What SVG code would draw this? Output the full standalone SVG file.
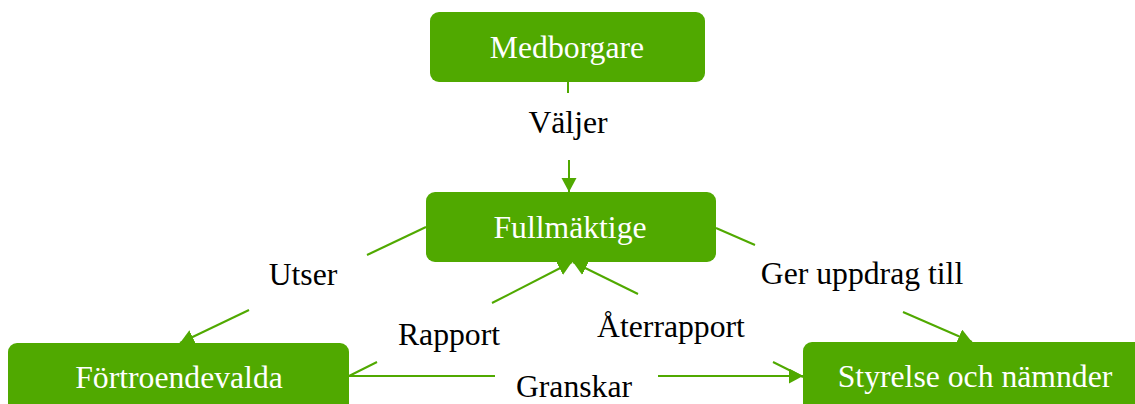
<svg xmlns="http://www.w3.org/2000/svg" width="1135" height="404" viewBox="0 0 1135 404">
<style>
.node rect{fill:#50a900;}
.node text{fill:#ffffff;font-family:"Liberation Serif","Times New Roman",serif;font-size:31.7px;text-anchor:middle;}
.edge line{stroke:#50a900;stroke-width:2;fill:none;}
.lbl{fill:#000000;font-family:"Liberation Serif","Times New Roman",serif;font-size:31.7px;text-anchor:middle;}
</style>
<defs>
<marker id="arr" markerUnits="userSpaceOnUse" markerWidth="15" markerHeight="16" refX="14" refY="7.5" orient="auto">
<path d="M0,0 L14,7.5 L0,15 z" fill="#50a900"/>
</marker>
</defs>
<rect width="1135" height="404" fill="#ffffff"/>
<g id="connectors">
<g class="edge" id="e-valjer">
<line x1="568" y1="82" x2="568" y2="93"/>
<line x1="569" y1="160" x2="569" y2="192" marker-end="url(#arr)"/>
<text class="lbl" x="568" y="133">Väljer</text>
</g>
<g class="edge" id="e-utser">
<line x1="426" y1="227" x2="367" y2="255"/>
<line x1="249" y1="310" x2="180" y2="343" marker-end="url(#arr)"/>
<text class="lbl" x="303" y="285">Utser</text>
</g>
<g class="edge" id="e-rapport">
<line x1="349" y1="376" x2="377" y2="362"/>
<line x1="492" y1="303" x2="572" y2="262" marker-end="url(#arr)"/>
<text class="lbl" x="449" y="345">Rapport</text>
</g>
<g class="edge" id="e-aterrapport">
<line x1="803" y1="377" x2="773" y2="362"/>
<line x1="638" y1="294" x2="573" y2="262" marker-end="url(#arr)"/>
<text class="lbl" x="671" y="337">Återrapport</text>
</g>
<g class="edge" id="e-granskar">
<line x1="349" y1="376" x2="495" y2="376"/>
<line x1="658" y1="376" x2="803" y2="376" marker-end="url(#arr)"/>
<text class="lbl" x="574" y="397">Granskar</text>
</g>
<g class="edge" id="e-uppdrag">
<line x1="716" y1="228" x2="755" y2="245"/>
<line x1="903" y1="312" x2="972" y2="342" marker-end="url(#arr)"/>
<text class="lbl" x="862" y="284">Ger uppdrag till</text>
</g>
</g>
<g class="node" id="n-medborgare">
<rect x="430" y="12" width="275" height="70" rx="9"/>
<text x="567" y="58">Medborgare</text>
</g>
<g class="node" id="n-fullmaktige">
<rect x="426" y="192" width="290" height="70" rx="9"/>
<text x="570" y="238">Fullmäktige</text>
</g>
<g class="node" id="n-fortroendevalda">
<rect x="8" y="343" width="341" height="70" rx="9"/>
<text x="179" y="388">Förtroendevalda</text>
</g>
<g class="node" id="n-styrelse">
<rect x="803" y="342" width="344" height="70" rx="9"/>
<text x="975" y="387">Styrelse och nämnder</text>
</g>
</svg>
